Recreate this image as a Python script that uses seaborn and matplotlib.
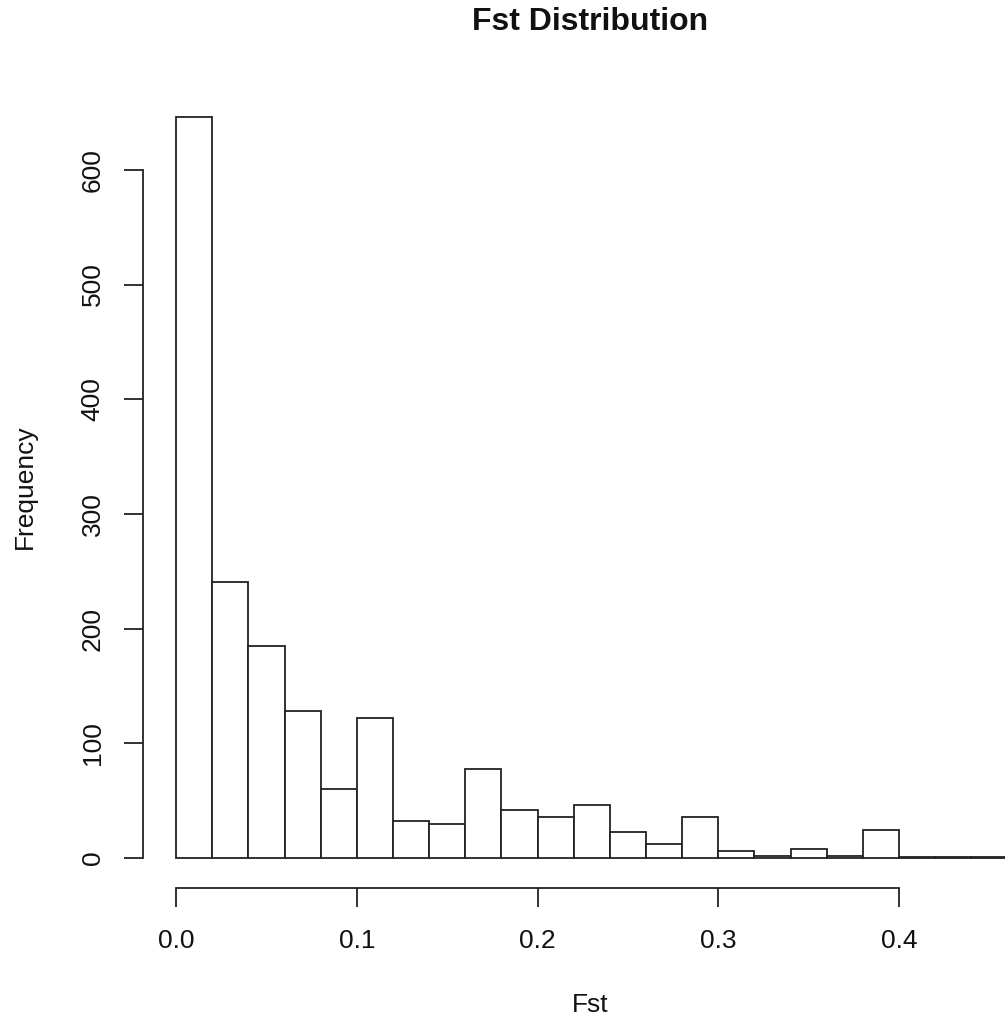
import matplotlib
matplotlib.use("Agg")
import matplotlib.pyplot as plt
import numpy as np
import seaborn as sns

# histogram of Fst values, bins of width 0.02
bin_edges = [0.00, 0.02, 0.04, 0.06, 0.08, 0.10, 0.12, 0.14, 0.16, 0.18, 0.20, 0.22,
             0.24, 0.26, 0.28, 0.30, 0.32, 0.34, 0.36, 0.38, 0.40, 0.42, 0.44, 0.46]
counts = [646, 241, 185, 128, 60, 122, 32, 30, 78, 42, 36, 46,
          23, 12, 36, 6, 2, 8, 2, 24, 1, 1, 1]
x_ticks = [0.0, 0.1, 0.2, 0.3, 0.4]
x_labels = ["0.0", "0.1", "0.2", "0.3", "0.4"]
y_ticks = [0, 100, 200, 300, 400, 500, 600]

sns.set_style("white")
plt.rcParams['font.family'] = ['Liberation Sans', 'DejaVu Sans']

line_col = '#222222'
centers = [(a + b) / 2 for a, b in zip(bin_edges[:-1], bin_edges[1:])]

fig = plt.figure(figsize=(10.05, 10.25), dpi=100)
# R-style plot region; the right side runs past the figure edge like the original crop
ax = fig.add_axes([143 / 1005, 137 / 1025, 894 / 1005, 803 / 1025])

sns.histplot(x=centers, weights=counts, bins=bin_edges, color='white', alpha=1,
             edgecolor=line_col, linewidth=1.3, ax=ax)

ax.set_xlim(-0.0183, 0.4763)
ax.set_ylim(-26.2, 674)

for side in ['top', 'right']:
    ax.spines[side].set_visible(False)
ax.spines['left'].set_bounds(0, 600)
ax.spines['bottom'].set_bounds(0, 0.4)
for side in ['left', 'bottom']:
    ax.spines[side].set_color(line_col)
    ax.spines[side].set_linewidth(1.3)

ax.set_xticks(x_ticks)
ax.set_xticklabels(x_labels)
ax.set_yticks(y_ticks)
ax.set_yticklabels([str(v) for v in y_ticks], rotation=90, va='center')
ax.tick_params(axis='both', direction='out', length=13.7, width=1.3, color=line_col,
               labelsize=19, labelcolor='#111111', bottom=True, left=True)
ax.tick_params(axis='x', pad=16)
ax.tick_params(axis='y', pad=14)

ax.set_xlabel('Fst', fontsize=19, color='#111111')
ax.set_ylabel('Frequency', fontsize=19, color='#111111')
ax.xaxis.set_label_coords(447 / 894, (20 - 137) / 803)
ax.xaxis.label.set_va('center')
ax.yaxis.set_label_coords((25 - 143) / 894, 0.5)
ax.yaxis.label.set_va('center')

fig.text(590 / 1005, 1 - 22 / 1025, 'Fst Distribution', fontsize=23, fontweight='bold',
         color='#111111', ha='center', va='center')

fig.savefig('out.png', dpi=100)
